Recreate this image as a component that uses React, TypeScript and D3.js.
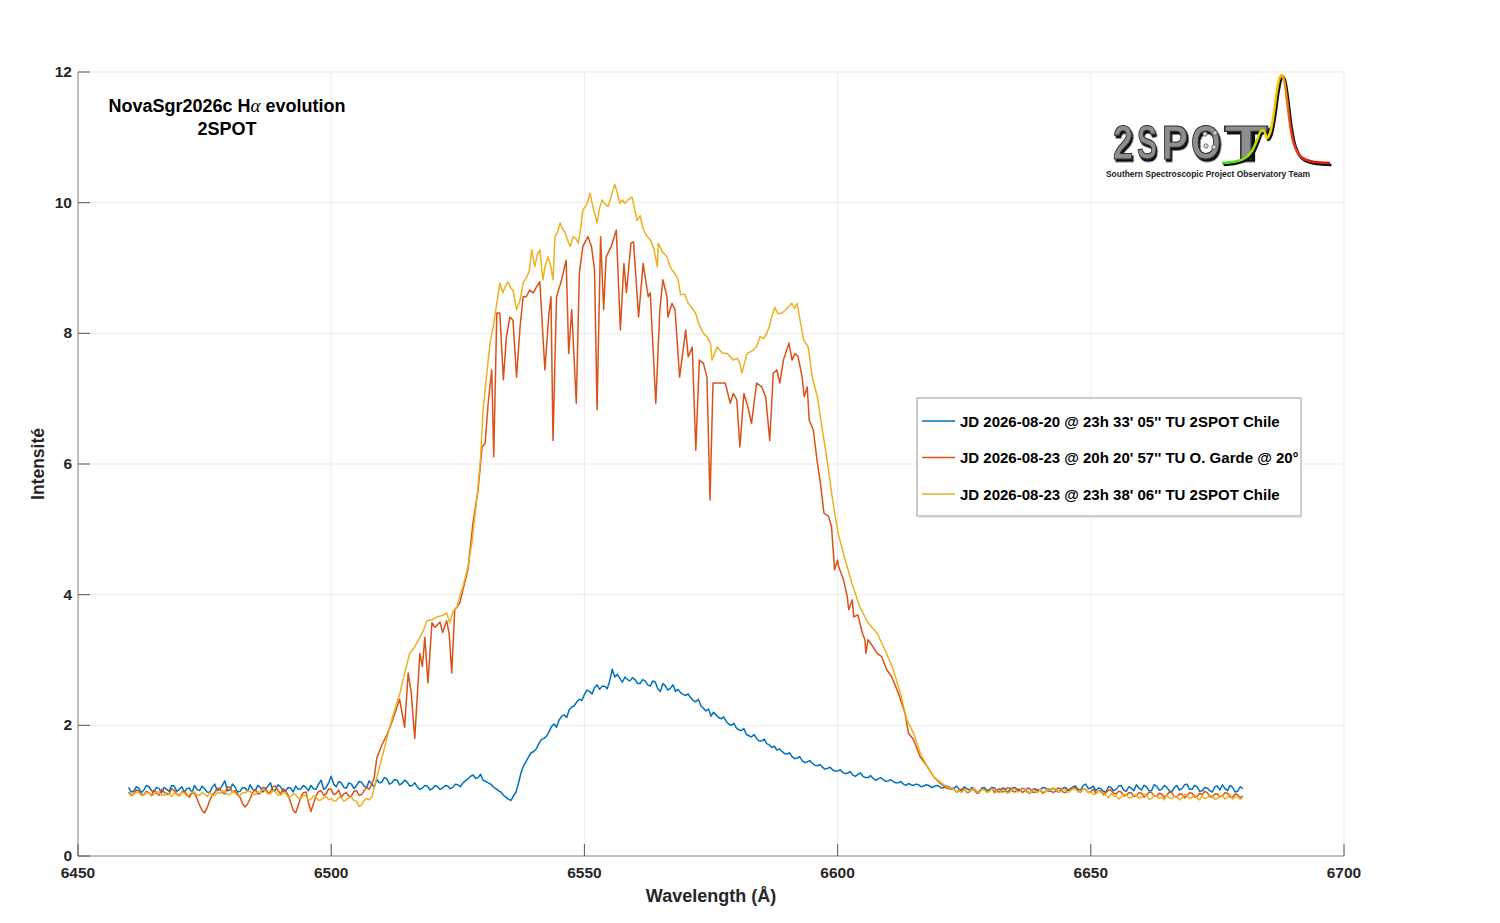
import React from 'react';
import * as d3 from 'd3';

// axis layout
const W = 1500;
const H = 923;
const plot = { left: 78, right: 1344, top: 72, bottom: 856 };

const xTicks = [6450, 6500, 6550, 6600, 6650, 6700];
const yTicks = [0, 2, 4, 6, 8, 10, 12];

const seriesNames = [
  "JD 2026-08-20 @ 23h 33' 05'' TU 2SPOT Chile",
  "JD 2026-08-23 @ 20h 20' 57'' TU O. Garde @ 20°",
  "JD 2026-08-23 @ 23h 38' 06'' TU 2SPOT Chile",
];
const seriesColors = ['#0072BD', '#D95319', '#EDB120'];

// blue spectrum: regular sampling, 6460 Å to 6680 Å every 0.5 Å
const blueStart = 6460;
const blueStep = 0.5;
const blueValues = [
  1.05, 0.98, 0.99, 1.06, 1.04, 0.97, 1.01, 1.08, 1.06, 1.0, 0.98, 1.05, 1.03, 0.97, 1.05, 1.02,
  0.99, 1.08, 1.07, 0.99, 1.02, 1.06, 0.98, 1.03, 1.04, 0.97, 1.08, 1.02, 1.0, 1.07, 1.03, 0.98,
  0.97, 1.05, 1.1, 1.0, 1.02, 1.08, 1.15, 1.0, 1.01, 1.1, 1.06, 0.98, 0.99, 1.05, 1.04, 0.99,
  1.09, 1.02, 1.0, 1.08, 1.05, 0.98, 1.02, 1.07, 1.12, 1.0, 1.01, 1.09, 1.06, 0.99, 1.0, 1.05,
  1.04, 0.98, 1.07, 1.02, 1.03, 1.08, 1.05, 1.0, 1.08, 1.03, 1.02, 1.1, 1.16, 1.02, 1.05, 1.12,
  1.22, 1.1, 1.06, 1.14, 1.12, 1.05, 1.04, 1.12, 1.1, 1.03, 1.08, 1.14, 1.13, 1.07, 1.05, 1.15,
  1.1, 1.06, 1.17, 1.12, 1.13, 1.2, 1.18, 1.1, 1.12, 1.17, 1.16, 1.09, 1.11, 1.16, 1.13, 1.07,
  1.08, 1.12, 1.06, 1.02, 1.04, 1.08, 1.07, 1.01, 1.03, 1.08, 1.06, 1.02, 1.04, 1.08, 1.07, 1.03,
  1.05, 1.1, 1.09, 1.06, 1.12, 1.15, 1.18, 1.22, 1.24, 1.19, 1.2, 1.25, 1.16, 1.14, 1.12, 1.1,
  1.06, 1.03, 1.0, 0.98, 0.93, 0.9, 0.87, 0.85, 0.92, 0.98, 1.12, 1.28, 1.38, 1.45, 1.52, 1.58,
  1.6, 1.64, 1.72, 1.78, 1.8, 1.83, 1.9, 1.98, 2.02, 1.97, 2.08, 2.14, 2.16, 2.12, 2.24, 2.28,
  2.3, 2.36, 2.4, 2.38, 2.47, 2.54, 2.52, 2.48, 2.58, 2.62, 2.55, 2.6, 2.6, 2.56, 2.68, 2.86,
  2.74, 2.78, 2.72, 2.66, 2.74, 2.7, 2.68, 2.73, 2.7, 2.64, 2.64, 2.7, 2.68, 2.62, 2.6, 2.68,
  2.66, 2.56, 2.52, 2.64, 2.6, 2.54, 2.57, 2.62, 2.52, 2.55, 2.5, 2.47, 2.46, 2.48, 2.42, 2.38,
  2.36, 2.4, 2.3, 2.26, 2.22, 2.25, 2.14, 2.2, 2.16, 2.12, 2.1, 2.13, 2.06, 2.02, 2.0, 2.03,
  1.96, 1.93, 1.92, 1.95, 1.86, 1.84, 1.82, 1.86, 1.8, 1.76, 1.76, 1.79, 1.72, 1.7, 1.66, 1.68,
  1.62, 1.64, 1.6, 1.57, 1.56, 1.58, 1.52, 1.49, 1.5, 1.52, 1.46, 1.43, 1.44, 1.46, 1.42, 1.39,
  1.38, 1.4, 1.36, 1.33, 1.34, 1.36, 1.32, 1.3, 1.3, 1.32, 1.28, 1.26, 1.27, 1.29, 1.24, 1.22,
  1.25, 1.27, 1.22, 1.2, 1.2, 1.23, 1.19, 1.16, 1.18, 1.2, 1.17, 1.14, 1.15, 1.17, 1.14, 1.12,
  1.12, 1.14, 1.1, 1.08, 1.11, 1.09, 1.08, 1.1, 1.09, 1.06, 1.07, 1.09, 1.08, 1.05, 1.06, 1.08,
  1.07, 1.04, 1.05, 1.07, 1.06, 1.03, 1.04, 1.07, 1.02, 0.99, 1.06, 1.03, 1.01, 1.05, 1.03, 0.98,
  0.99, 1.04, 1.05, 1.0, 1.02, 1.05, 1.04, 0.99, 0.98, 1.04, 1.03, 0.97, 1.01, 1.04, 1.05, 1.01,
  1.0, 1.04, 1.02, 0.98, 0.96, 1.02, 1.03, 0.99, 1.01, 1.05, 1.04, 1.0, 0.99, 1.04, 1.02, 0.98,
  1.0, 1.04, 1.05, 1.0, 1.03, 1.06, 1.07, 1.02, 1.01, 1.08, 1.1, 1.03, 1.04, 1.07, 1.0, 1.04,
  1.03, 0.99, 0.98, 1.06, 1.05, 1.0, 1.02, 1.07, 1.08, 1.01, 0.99, 1.06, 1.04, 1.0, 1.09, 1.04,
  1.01, 1.08, 1.06, 1.0, 1.0, 1.09, 1.07, 1.01, 1.02, 1.08, 1.05, 1.0, 0.98, 1.05, 1.08, 1.01,
  1.03, 1.09, 1.1, 1.02, 1.02, 1.08, 1.06, 0.99, 1.0, 1.05, 1.04, 1.0, 0.98, 1.06, 1.07, 1.01,
  1.09, 1.03, 1.0, 1.08, 1.05, 0.98, 0.99, 1.06, 1.03,
];

// [wavelength (Å), intensity]
const redSpectrum: [number, number][] = [
  [6460, 0.98], [6460.5, 0.93], [6461, 0.95], [6461.5, 1.01], [6462, 1.0], [6462.5, 0.94], [6463, 0.94], [6463.5, 0.99],
  [6464, 0.97], [6464.5, 0.92], [6465, 1.01], [6465.5, 0.96], [6466, 0.93], [6466.5, 1.02], [6467, 0.98], [6467.5, 0.94],
  [6468, 0.95], [6468.5, 1.03], [6469, 1.0], [6469.5, 0.95], [6470, 0.92], [6470.5, 0.98], [6471, 0.99], [6471.5, 0.94],
  [6472, 0.9], [6472.5, 0.97], [6473, 0.96], [6473.5, 0.88], [6474, 0.78], [6474.5, 0.7], [6475, 0.66], [6475.5, 0.74],
  [6476, 0.85], [6476.5, 0.93], [6477, 0.97], [6477.5, 1.04], [6478, 1.03], [6478.5, 0.97], [6479, 0.95], [6479.5, 1.06],
  [6480, 1.05], [6480.5, 0.98], [6481, 1.0], [6481.5, 0.95], [6482, 0.9], [6482.5, 0.8], [6483, 0.75], [6483.5, 0.8],
  [6484, 0.88], [6484.5, 0.97], [6485, 1.02], [6485.5, 0.95], [6486, 0.96], [6486.5, 1.05], [6487, 1.04], [6487.5, 0.97],
  [6488, 0.98], [6488.5, 1.06], [6489, 1.07], [6489.5, 1.0], [6490, 0.95], [6490.5, 1.03], [6491, 1.0], [6491.5, 0.93],
  [6492, 0.82], [6492.5, 0.7], [6493, 0.66], [6493.5, 0.78], [6494, 0.9], [6494.5, 0.97], [6495, 0.98], [6495.5, 0.82],
  [6496, 0.68], [6496.5, 0.8], [6497, 0.92], [6497.5, 0.99], [6498, 1.0], [6498.5, 0.93], [6499, 0.95], [6499.5, 1.03],
  [6500, 1.02], [6500.5, 0.94], [6501, 0.96], [6501.5, 1.01], [6502, 0.9], [6502.5, 0.95], [6503, 0.97], [6503.5, 0.91],
  [6504, 0.92], [6504.5, 0.99], [6505, 1.0], [6505.5, 0.93], [6506, 0.94], [6506.5, 1.0], [6507, 1.05], [6507.5, 1.02],
  [6508, 1.1], [6508.5, 1.2], [6509, 1.5], [6510, 1.7], [6511, 1.85], [6512, 2.05], [6513, 2.28], [6513.5, 2.4],
  [6514.5, 1.97], [6515.2, 2.8], [6515.8, 2.5], [6516.5, 1.8], [6517.5, 3.1], [6518, 2.9], [6518.5, 3.35], [6519.1, 2.65],
  [6519.9, 3.57], [6520.5, 3.5], [6521.5, 3.58], [6522, 3.42], [6522.8, 3.6], [6523.3, 3.4], [6523.8, 2.8], [6524.4, 3.77],
  [6525.4, 3.87], [6526, 4.07], [6527, 4.38], [6528, 5.1], [6529, 5.6], [6529.8, 6.26], [6530.4, 6.32], [6531, 6.93],
  [6531.7, 7.44], [6532.1, 6.11], [6532.7, 8.31], [6533.3, 8.31], [6534, 7.29], [6534.6, 7.95], [6535.3, 8.25], [6535.9, 8.2],
  [6536.6, 7.33], [6537.3, 8.1], [6537.9, 8.56], [6538.5, 8.56], [6539.2, 8.66], [6539.9, 8.62], [6540.6, 8.72], [6541.2, 8.79],
  [6542.2, 7.44], [6543, 8.31], [6543.4, 8.56], [6543.8, 6.36], [6544.5, 8.56], [6545.5, 8.82], [6546.4, 9.12], [6546.9, 7.69],
  [6547.5, 8.36], [6548.4, 6.93], [6549, 8.92], [6549.7, 9.33], [6550.7, 9.48], [6551.4, 9.33], [6552, 8.97], [6552.5, 6.83],
  [6553.2, 9.48], [6553.8, 8.36], [6554.3, 9.17], [6555.3, 9.33], [6556.3, 9.58], [6557.1, 8.05], [6557.8, 9.07], [6558.3, 8.62],
  [6559.2, 9.38], [6559.7, 9.4], [6560.7, 8.25], [6561.6, 9.07], [6562.6, 8.56], [6563, 8.62], [6564.1, 6.93], [6564.9, 8.36],
  [6565.5, 8.82], [6566.3, 8.56], [6566.5, 8.25], [6567.3, 8.46], [6567.9, 8.36], [6568.8, 7.33], [6570, 8.05], [6570.5, 7.64],
  [6571.3, 7.79], [6572, 6.21], [6572.7, 7.59], [6573.5, 7.54], [6574.2, 7.33], [6574.8, 5.45], [6575.4, 7.24], [6576.4, 7.24],
  [6577.8, 7.24], [6578.8, 6.93], [6579.4, 7.08], [6580.1, 6.98], [6580.7, 6.26], [6581.5, 7.08], [6582.3, 6.87], [6583, 6.62],
  [6584, 7.24], [6585, 7.18], [6585.8, 7.03], [6586.6, 6.36], [6587.3, 7.39], [6588, 7.44], [6588.6, 7.24], [6589.3, 7.59],
  [6590.4, 7.85], [6591, 7.59], [6591.6, 7.69], [6592.2, 7.64], [6593, 7.33], [6593.4, 7.03], [6594, 7.18], [6594.4, 6.67],
  [6595.2, 6.52], [6596, 6.02], [6596.6, 5.71], [6597.3, 5.25], [6598.2, 5.2], [6598.8, 5.04], [6599.4, 4.38], [6600, 4.53],
  [6600.2, 4.43], [6601.2, 4.22], [6601.9, 3.97], [6602.2, 3.77], [6602.9, 3.92], [6603.2, 3.66], [6604, 3.69], [6604.9, 3.41],
  [6605.4, 3.31], [6605.6, 3.1], [6606, 3.31], [6607, 3.2], [6607.8, 3.1], [6608.7, 3.05], [6609.7, 2.85], [6610.7, 2.74],
  [6612, 2.49], [6613.3, 2.19], [6614, 1.88], [6615, 1.78], [6616.3, 1.52], [6617.7, 1.37], [6619, 1.21], [6620.3, 1.11],
  [6621.5, 1.04], [6622.5, 1.02], [6623, 1.02], [6623.5, 0.98], [6624, 0.99], [6624.5, 1.03], [6625, 1.03], [6625.5, 0.97],
  [6626, 0.98], [6626.5, 1.02], [6627, 1.01], [6627.5, 0.96], [6628, 0.97], [6628.5, 1.03], [6629, 1.02], [6629.5, 0.98],
  [6630, 1.0], [6630.5, 1.04], [6631, 0.97], [6631.5, 1.01], [6632, 1.03], [6632.5, 0.98], [6633, 0.99], [6633.5, 1.04],
  [6634, 1.04], [6634.5, 0.99], [6635, 0.98], [6635.5, 1.02], [6636, 1.02], [6636.5, 0.97], [6637, 1.0], [6637.5, 1.04],
  [6638, 1.03], [6638.5, 0.98], [6639, 0.97], [6639.5, 1.02], [6640, 1.01], [6640.5, 0.96], [6641, 0.98], [6641.5, 1.03],
  [6642, 1.02], [6642.5, 0.97], [6643, 0.99], [6643.5, 1.04], [6644, 1.03], [6644.5, 0.98], [6645, 0.97], [6645.5, 1.02],
  [6646, 1.01], [6646.5, 1.05], [6647, 1.04], [6647.5, 0.99], [6648, 0.98], [6648.5, 1.03], [6649, 1.02], [6649.5, 0.97],
  [6650, 0.99], [6650.5, 1.02], [6651, 0.96], [6651.5, 0.99], [6652, 1.0], [6652.5, 0.95], [6653, 0.97], [6653.5, 1.01],
  [6654, 1.01], [6654.5, 0.96], [6655, 0.95], [6655.5, 0.99], [6656, 0.98], [6656.5, 0.92], [6657, 0.93], [6657.5, 0.97],
  [6658, 0.97], [6658.5, 0.91], [6659, 0.92], [6659.5, 0.97], [6660, 0.96], [6660.5, 0.9], [6661, 0.93], [6661.5, 0.98],
  [6662, 0.97], [6662.5, 0.92], [6663, 0.91], [6663.5, 0.96], [6664, 0.95], [6664.5, 0.9], [6665, 0.93], [6665.5, 0.98],
  [6666, 0.97], [6666.5, 0.91], [6667, 0.9], [6667.5, 0.95], [6668, 0.95], [6668.5, 0.89], [6669, 0.92], [6669.5, 0.97],
  [6670, 0.96], [6670.5, 0.9], [6671, 0.91], [6671.5, 0.96], [6672, 0.94], [6672.5, 0.99], [6673, 0.97], [6673.5, 0.91],
  [6674, 0.9], [6674.5, 0.95], [6675, 0.95], [6675.5, 0.9], [6676, 0.92], [6676.5, 0.97], [6677, 0.96], [6677.5, 0.9],
  [6678, 0.9], [6678.5, 0.95], [6679, 0.94], [6679.5, 0.89], [6680, 0.92],
];

const yellowSpectrum: [number, number][] = [
  [6460, 0.96], [6460.5, 0.92], [6461, 0.94], [6461.5, 0.98], [6462, 0.97], [6462.5, 0.93], [6463, 0.93], [6463.5, 0.97],
  [6464, 0.96], [6464.5, 0.92], [6465, 0.94], [6465.5, 0.98], [6466, 0.98], [6466.5, 0.93], [6467, 0.93], [6467.5, 0.97],
  [6468, 0.95], [6468.5, 0.91], [6469, 0.97], [6469.5, 0.94], [6470, 0.92], [6470.5, 0.97], [6471, 0.96], [6471.5, 0.92],
  [6472, 0.94], [6472.5, 0.98], [6473, 0.98], [6473.5, 0.93], [6474, 0.93], [6474.5, 0.97], [6475, 0.95], [6475.5, 0.91],
  [6476, 0.97], [6476.5, 0.93], [6477, 0.92], [6477.5, 0.97], [6478, 0.96], [6478.5, 1.0], [6479, 0.99], [6479.5, 0.94],
  [6480, 0.94], [6480.5, 0.99], [6481, 0.97], [6481.5, 0.92], [6482, 0.93], [6482.5, 0.97], [6483, 0.96], [6483.5, 1.0],
  [6484, 0.99], [6484.5, 0.94], [6485, 0.94], [6485.5, 0.99], [6486, 0.97], [6486.5, 1.02], [6487, 1.0], [6487.5, 0.95],
  [6488, 0.95], [6488.5, 1.0], [6489, 0.98], [6489.5, 0.93], [6490, 0.93], [6490.5, 0.97], [6491, 0.96], [6491.5, 0.9],
  [6492, 0.91], [6492.5, 0.95], [6493, 0.94], [6493.5, 0.88], [6494, 0.88], [6494.5, 0.93], [6495, 0.92], [6495.5, 0.86],
  [6496, 0.87], [6496.5, 0.92], [6497, 0.9], [6497.5, 0.85], [6498, 0.86], [6498.5, 0.9], [6499, 0.91], [6499.5, 0.86],
  [6500, 0.88], [6500.5, 0.84], [6501, 0.85], [6501.5, 0.9], [6502, 0.89], [6502.5, 0.84], [6503, 0.86], [6503.5, 0.9],
  [6504, 0.9], [6504.5, 0.85], [6505, 0.84], [6505.5, 0.76], [6506, 0.78], [6506.5, 0.85], [6507, 0.88], [6507.5, 0.86],
  [6508, 0.9], [6509, 1.2], [6510, 1.5], [6511, 1.8], [6512, 2.1], [6513, 2.35], [6513.6, 2.5], [6514.5, 2.8],
  [6515.5, 3.1], [6516.5, 3.2], [6517.5, 3.35], [6518.2, 3.45], [6518.9, 3.6], [6520, 3.62], [6520.9, 3.66], [6522, 3.68],
  [6522.8, 3.72], [6523.4, 3.57], [6524.1, 3.75], [6524.8, 3.81], [6525.5, 4.0], [6526, 4.12], [6527, 4.43], [6527.8, 4.8],
  [6528.8, 5.5], [6529.5, 6.1], [6530, 6.83], [6530.8, 7.44], [6531.4, 7.87], [6532, 8.1], [6532.7, 8.46], [6533.3, 8.77],
  [6533.9, 8.62], [6534.4, 8.72], [6534.9, 8.79], [6535.4, 8.7], [6535.9, 8.66], [6536.6, 8.36], [6537.3, 8.51], [6537.9, 8.77],
  [6538.6, 8.86], [6539.1, 8.95], [6539.6, 9.28], [6540.2, 9.02], [6540.7, 9.2], [6541.2, 9.28], [6541.8, 8.82], [6542.3, 9.05],
  [6542.8, 9.17], [6543.3, 9.05], [6543.8, 8.82], [6544.2, 9.48], [6544.7, 9.55], [6545.2, 9.69], [6545.7, 9.6], [6546.2, 9.54],
  [6546.7, 9.42], [6547.2, 9.33], [6547.8, 9.48], [6548.3, 9.45], [6548.8, 9.38], [6549.3, 9.62], [6549.7, 9.89], [6550.4, 9.96],
  [6551.1, 10.14], [6551.8, 9.9], [6552.5, 9.69], [6553, 9.92], [6553.5, 10.04], [6554.1, 9.98], [6554.7, 9.94], [6555.3, 10.1],
  [6556, 10.28], [6556.5, 10.15], [6557, 9.99], [6557.5, 10.04], [6558, 9.99], [6558.7, 10.05], [6559.4, 10.09], [6560.4, 9.73],
  [6561, 9.8], [6561.6, 9.6], [6562.2, 9.5], [6563, 9.43], [6563.7, 9.3], [6564.4, 9.02], [6564.6, 9.38], [6565.4, 9.25],
  [6566.3, 9.17], [6566.8, 9.05], [6567.3, 8.97], [6568, 8.9], [6568.5, 8.82], [6569, 8.59], [6569.8, 8.6], [6570.5, 8.46],
  [6571.5, 8.36], [6572, 8.3], [6572.5, 8.16], [6573.5, 8.0], [6574.2, 7.95], [6574.9, 7.85], [6575.2, 7.59], [6576.2, 7.79],
  [6577.2, 7.7], [6578.2, 7.69], [6579.4, 7.59], [6580.2, 7.62], [6580.7, 7.54], [6581.1, 7.39], [6582.1, 7.69], [6583.3, 7.74],
  [6584, 7.8], [6584.7, 7.95], [6585.4, 7.92], [6586, 8.0], [6586.5, 8.1], [6587, 8.25], [6587.6, 8.4], [6588.2, 8.3],
  [6589, 8.31], [6589.6, 8.35], [6590.2, 8.4], [6591, 8.46], [6591.5, 8.38], [6592, 8.46], [6592.6, 8.2], [6593.3, 7.9],
  [6594.2, 7.79], [6595, 7.33], [6596, 7.03], [6597, 6.52], [6598, 6.02], [6599, 5.45], [6600.1, 4.94], [6601.5, 4.53],
  [6602.8, 4.18], [6604.4, 3.81], [6606, 3.57], [6607.8, 3.41], [6609.4, 3.15], [6611, 2.85], [6612.4, 2.49], [6613.7, 2.08],
  [6615, 1.88], [6616.3, 1.58], [6617.7, 1.37], [6619, 1.21], [6620.3, 1.13], [6621.6, 1.06], [6623, 1.02], [6623.5, 0.99],
  [6624, 1.0], [6624.5, 0.97], [6625, 1.02], [6625.5, 0.98], [6626, 0.99], [6626.5, 1.03], [6627, 1.03], [6627.5, 0.98],
  [6628, 0.98], [6628.5, 1.02], [6629, 1.01], [6629.5, 0.97], [6630, 0.99], [6630.5, 1.03], [6631, 1.02], [6631.5, 0.98],
  [6632, 0.97], [6632.5, 1.01], [6633, 1.0], [6633.5, 0.96], [6634, 0.98], [6634.5, 1.02], [6635, 1.02], [6635.5, 0.98],
  [6636, 0.99], [6636.5, 1.03], [6637, 1.01], [6637.5, 0.97], [6638, 0.97], [6638.5, 1.01], [6639, 1.0], [6639.5, 0.97],
  [6640, 1.02], [6640.5, 0.98], [6641, 0.98], [6641.5, 1.02], [6642, 1.0], [6642.5, 1.04], [6643, 1.03], [6643.5, 0.99],
  [6644, 0.98], [6644.5, 1.02], [6645, 1.01], [6645.5, 0.97], [6646, 1.0], [6646.5, 1.03], [6647, 1.02], [6647.5, 0.98],
  [6648, 0.99], [6648.5, 1.03], [6649, 1.01], [6649.5, 0.97], [6650, 0.98], [6650.5, 0.94], [6651, 0.95], [6651.5, 0.99],
  [6652, 0.98], [6652.5, 0.93], [6653, 0.94], [6653.5, 0.89], [6654, 0.96], [6654.5, 0.92], [6655, 0.92], [6655.5, 0.87],
  [6656, 0.9], [6656.5, 0.94], [6657, 0.94], [6657.5, 0.89], [6658, 0.89], [6658.5, 0.93], [6659, 0.93], [6659.5, 0.88],
  [6660, 0.9], [6660.5, 0.95], [6661, 0.92], [6661.5, 0.87], [6662, 0.88], [6662.5, 0.93], [6663, 0.92], [6663.5, 0.88],
  [6664, 0.9], [6664.5, 0.86], [6665, 0.93], [6665.5, 0.89], [6666, 0.88], [6666.5, 0.92], [6667, 0.91], [6667.5, 0.86],
  [6668, 0.89], [6668.5, 0.94], [6669, 0.93], [6669.5, 0.88], [6670, 0.9], [6670.5, 0.94], [6671, 0.88], [6671.5, 0.86],
  [6672, 0.92], [6672.5, 0.88], [6673, 0.89], [6673.5, 0.93], [6674, 0.91], [6674.5, 0.87], [6675, 0.88], [6675.5, 0.92],
  [6676, 0.92], [6676.5, 0.87], [6677, 0.9], [6677.5, 0.94], [6678, 0.87], [6678.5, 0.91], [6679, 0.91], [6679.5, 0.87],
  [6680, 0.89],
];

const blueSpectrum: [number, number][] = blueValues.map((v, i) => [blueStart + i * blueStep, v]);
const spectra = [blueSpectrum, redSpectrum, yellowSpectrum];

// logo drawing (not chart data): letter, left edge, target width, glyph advance (em, Liberation Sans Bold)
const logoLetters: [string, number, number, number][] = [
  ['2', 1113, 21, 0.556], ['S', 1137, 21, 0.667], ['P', 1162, 27, 0.667], ['O', 1191, 31, 0.778], ['T', 1224, 46, 0.611],
];
const LOGO_FS = 48;
const logoCurve: [number, number][] = [
  [1222, 163], [1235, 161.5], [1245, 158], [1252, 151], [1257, 140], [1261, 131], [1264, 131], [1267, 138],
  [1270, 133], [1274, 112], [1277, 90], [1280, 77], [1282, 75], [1284, 80], [1287, 100], [1290, 124],
  [1294, 144], [1300, 156], [1310, 161], [1330, 163],
];
const logoDots: [number, number][] = [[1205, 134], [1215, 133], [1206, 146], [1214, 147]];

const FONT = '"Liberation Sans", Arial, Helvetica, sans-serif';

function Logo() {
  const line = d3.line<[number, number]>().curve(d3.curveCatmullRom.alpha(0.5));
  const d = line(logoCurve) || '';
  return (
    <g>
      <defs>
        <linearGradient id="logoGrad" gradientUnits="userSpaceOnUse" x1={1222} y1={0} x2={1330} y2={0}>
          <stop offset="0" stopColor="#20e020" />
          <stop offset="0.28" stopColor="#a8e000" />
          <stop offset="0.42" stopColor="#f2d800" />
          <stop offset="0.56" stopColor="#f5b400" />
          <stop offset="0.64" stopColor="#e83a10" />
          <stop offset="1" stopColor="#d01010" />
        </linearGradient>
        <filter id="logoShadow" x="-20%" y="-20%" width="150%" height="150%">
          <feDropShadow dx={2} dy={2.5} stdDeviation={0.4} floodColor="#111" floodOpacity={1} />
        </filter>
      </defs>
      {logoLetters.map(([ch, lx, lw, adv]) => (
        <text key={ch} transform={`translate(${lx},159) scale(${(lw / (adv * LOGO_FS)) * 0.96},1)`}
          fontFamily={FONT} fontWeight="bold" fontSize={LOGO_FS} fill="#8e8e8e"
          stroke="#333" strokeWidth={1.1} filter="url(#logoShadow)">{ch}</text>
      ))}
      {logoDots.map((p, i) => (
        <circle key={i} cx={p[0]} cy={p[1]} r={2.2} fill="#d8d8d8" stroke="#555" strokeWidth={0.8} />
      ))}
      <path d={d} transform="translate(1.5,2)" fill="none" stroke="#111" strokeWidth={2.5} />
      <path d={d} fill="none" stroke="url(#logoGrad)" strokeWidth={2.5} />
      <text x={1106} y={177} fontFamily={FONT} fontWeight="bold" fontSize={8.5} fill="#222" textLength={204} lengthAdjust="spacingAndGlyphs">
        Southern Spectroscopic Project Observatory Team
      </text>
    </g>
  );
}

export default function App() {
  const x = d3.scaleLinear().domain([6450, 6700]).range([plot.left, plot.right]);
  const y = d3.scaleLinear().domain([0, 12]).range([plot.bottom, plot.top]);
  const line = d3.line<[number, number]>().x(d => x(d[0])).y(d => y(d[1]));

  const legend = { x: 917, y: 398, w: 384, h: 118 };
  const rowY = [421, 457.5, 494];

  return (
    <svg width={W} height={H} style={{ position: 'absolute', left: 0, top: 0, background: '#fff' }} fontFamily={FONT}>
      {/* grid */}
      {xTicks.map(t => (
        <line key={'gx' + t} x1={x(t)} x2={x(t)} y1={plot.top} y2={plot.bottom} stroke="#ebebeb" strokeWidth={1} />
      ))}
      {yTicks.map(t => (
        <line key={'gy' + t} x1={plot.left} x2={plot.right} y1={y(t)} y2={y(t)} stroke="#ebebeb" strokeWidth={1} />
      ))}

      {/* series */}
      {spectra.map((s, i) => (
        <path key={'s' + i} d={line(s) || ''} fill="none" stroke={seriesColors[i]} strokeWidth={1.5} strokeLinejoin="round" />
      ))}

      {/* axes */}
      <line x1={plot.left} x2={plot.left} y1={plot.top} y2={plot.bottom} stroke="#8a8a8a" />
      <line x1={plot.left} x2={plot.right} y1={plot.bottom} y2={plot.bottom} stroke="#8a8a8a" />
      {yTicks.map(t => (
        <g key={'ty' + t}>
          <line x1={plot.left} x2={plot.left + 12} y1={y(t)} y2={y(t)} stroke="#555" />
          <text x={plot.left - 6} y={y(t) + 5} textAnchor="end" fontSize={15.5} fontWeight="bold" fill="#262626">{t}</text>
        </g>
      ))}
      {xTicks.map(t => (
        <g key={'tx' + t}>
          <line x1={x(t)} x2={x(t)} y1={plot.bottom} y2={plot.bottom - 12} stroke="#555" />
          <text x={x(t)} y={plot.bottom + 22} textAnchor="middle" fontSize={15.5} fontWeight="bold" fill="#262626">{t}</text>
        </g>
      ))}

      <text x={711} y={902} textAnchor="middle" fontSize={18} fontWeight="bold" fill="#262626">Wavelength (Å)</text>
      <text transform={`translate(44,${(plot.top + plot.bottom) / 2}) rotate(-90)`} textAnchor="middle" fontSize={17.5} fontWeight="bold" fill="#262626">Intensité</text>

      {/* title inside the axes */}
      <text x={227} y={112} textAnchor="middle" fontSize={18} fontWeight="bold" fill="#000">
        NovaSgr2026c H<tspan fontFamily='"Liberation Serif", serif' fontStyle="italic" fontWeight="normal" fontSize={19}>α</tspan> evolution
      </text>
      <text x={227} y={135} textAnchor="middle" fontSize={18} fontWeight="bold" fill="#000">2SPOT</text>

      <Logo />

      {/* legend */}
      <rect x={legend.x} y={legend.y} width={legend.w} height={legend.h} fill="#fff" stroke="#9a9a9a" strokeWidth={1} />
      <line x1={legend.x + 1} x2={legend.x + legend.w + 1} y1={legend.y + legend.h + 1} y2={legend.y + legend.h + 1} stroke="#cfcfcf" />
      {seriesNames.map((n, i) => (
        <g key={'lg' + i}>
          <line x1={922} x2={955} y1={rowY[i]} y2={rowY[i]} stroke={seriesColors[i]} strokeWidth={1.5} />
          <text x={960} y={rowY[i] + 5.5} fontSize={15} fontWeight="bold" fill="#000">{n}</text>
        </g>
      ))}
    </svg>
  );
}
